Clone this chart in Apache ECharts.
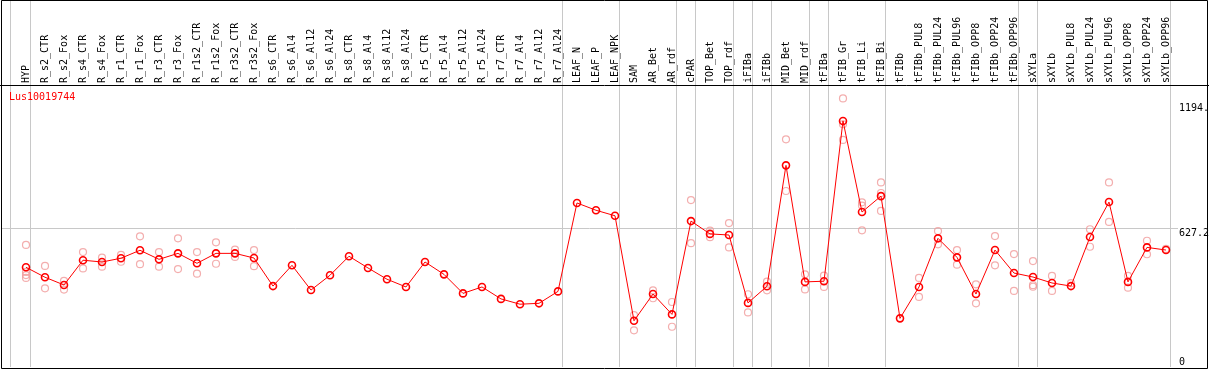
<!DOCTYPE html>
<html>
<head>
<meta charset="utf-8">
<script src="https://cdn.jsdelivr.net/npm/echarts@6/dist/echarts.min.js"></script>
<style>
html,body{margin:0;padding:0;background:#fff;}
#c{width:1209px;height:370px;}
</style>
</head>
<body>
<div id="c"></div>
<script>
const geneName = 'Lus10019744';
const categories = ['HYP','R_s2_CTR','R_s2_Fox','R_s4_CTR','R_s4_Fox','R_r1_CTR','R_r1_Fox','R_r3_CTR','R_r3_Fox','R_r1s2_CTR','R_r1s2_Fox','R_r3s2_CTR','R_r3s2_Fox','R_s6_CTR','R_s6_Al4','R_s6_Al12','R_s6_Al24','R_s8_CTR','R_s8_Al4','R_s8_Al12','R_s8_Al24','R_r5_CTR','R_r5_Al4','R_r5_Al12','R_r5_Al24','R_r7_CTR','R_r7_Al4','R_r7_Al12','R_r7_Al24','LEAF_N','LEAF_P','LEAF_NPK','SAM','AR_Bet','AR_rdf','cPAR','TOP_Bet','TOP_rdf','iFIBa','iFIBb','MID_Bet','MID_rdf','tFIBa','tFIB_Gr','tFIB_Li','tFIB_Bi','tFIBb','tFIBb_PUL8','tFIBb_PUL24','tFIBb_PUL96','tFIBb_OPP8','tFIBb_OPP24','tFIBb_OPP96','sXYLa','sXYLb','sXYLb_PUL8','sXYLb_PUL24','sXYLb_PUL96','sXYLb_OPP8','sXYLb_OPP24','sXYLb_OPP96'];
const means = [451,406,371,483,475,492,528,487,514,469,514,514,493,366,460,348,415,501,448,397,362,475,419,333,362,308,284,288,342,742,709,684,209,330,238,660,602,597,290,365,912,385,388,1113,701,773,220,362,582,496,330,529,425,407,380,366,588,746,385,541,529];
const replicates = [[552,430,416,403],[457,356],[390,350],[520,446],[495,454],[507,476],[591,465],[520,454],[582,443],[520,422],[564,467],[531,498],[529,456],
[],[],[],[],[],[],[],[],[],[],[],[],[],[],[],[],[],[],[],
[235,166],[347,311],[294,182],[755,560],[617,587],[651,541],[329,247],[386,347],[1030,796],[419,351],[413,362],[1215,1098,1027],[745,730,618],[835,787,706],
[],[403,317],[615,555],[529,463],[374,288],[592,460],[511,344],[479,370,363],[412,344],[379],[623,544],[835,656],[412,359],[571,510],[534]];
const yTickValues = [0, 627.2, 1194];
const yTickLabels = ['0', '627.2', '1194.'];
const groupEnds = [0, 28, 31, 34, 35, 37, 38, 39, 41, 42, 45, 52, 53, 60];

const FONT = 'DejaVu Sans Mono';
const meanData = means.map((v, i) => [i, v]);
const repData = [];
replicates.forEach((arr, i) => arr.forEach(v => repData.push([i, v])));

const vLines = [{xAxis: -0.816}].concat(groupEnds.map(e => ({xAxis: e + 0.23})))
  .map(d => Object.assign(d, {label: {show: false}}));
const hLines = yTickValues.map((v, k) => ({
  yAxis: v,
  lineStyle: v === 627.2 ? {color: '#c8c8c8', width: 1, type: 'solid'} : {color: 'rgba(255,255,255,0)', width: 1},
  label: {show: true, position: 'end', distance: 1, formatter: yTickLabels[k],
    verticalAlign: v === 0 ? 'bottom' : 'top', align: 'left',
    color: '#000', fontFamily: FONT, fontSize: 10}
}));

const chart = echarts.init(document.getElementById('c'), null, {renderer: 'canvas'});
chart.setOption({
  animation: false,
  backgroundColor: '#fff',
  title: {text: geneName, left: 9, top: 92, padding: 0,
    textStyle: {color: '#ff0000', fontFamily: FONT, fontSize: 10, fontWeight: 'normal'}},
  grid: {left: 1, right: 31, top: 0, bottom: 3, containLabel: false, outerBoundsMode: 'none'},
  xAxis: {
    type: 'value', position: 'top', offset: -86,
    min: -1.3158, max: 60.632,
    axisLine: {show: false}, axisTick: {show: false}, splitLine: {show: false},
    axisLabel: {show: true, customValues: categories.map((c, i) => i), rotate: 90, margin: 3,
      formatter: v => categories[Math.round(v)] || '',
      color: '#000', fontFamily: FONT, fontSize: 10, hideOverlap: false}
  },
  yAxis: {type: 'value', show: false, min: 0, max: 1660, splitLine: {show: false}},
  graphic: [
    {type: 'rect', shape: {x: 1.5, y: 0.5, width: 1206, height: 368}, style: {fill: null, stroke: '#000', lineWidth: 1}, z: 100, silent: true},
    {type: 'line', shape: {x1: 0, y1: 85.5, x2: 1209, y2: 85.5}, style: {stroke: '#000', lineWidth: 1}, z: 100, silent: true}
  ],
  series: [
    {
      type: 'scatter', name: 'replicates', data: repData, z: 2,
      symbol: 'circle', symbolSize: 7,
      itemStyle: {color: 'rgba(0,0,0,0)', borderColor: '#f09a9a', borderWidth: 1.2},
      silent: true
    },
    {
      type: 'line', name: 'mean', data: meanData, z: 3,
      symbol: 'circle', symbolSize: 7, showSymbol: true,
      lineStyle: {color: '#ff0000', width: 1},
      itemStyle: {color: 'rgba(0,0,0,0)', borderColor: '#ff0000', borderWidth: 1.6},
      silent: true,
      markLine: {
        silent: true, symbol: 'none', animation: false, z: 1,
        lineStyle: {color: '#c8c8c8', width: 1, type: 'solid'},
        emphasis: {disabled: true},
        data: vLines.concat(hLines)
      }
    }
  ]
});
</script>
</body>
</html>
